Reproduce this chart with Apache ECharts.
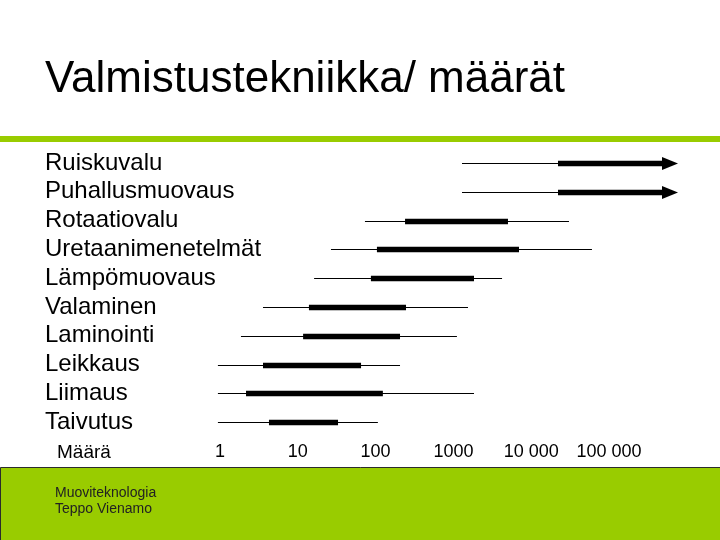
<!DOCTYPE html>
<html>
<head>
<meta charset="utf-8">
<script src="https://cdn.jsdelivr.net/npm/echarts@6/dist/echarts.min.js"></script>
<style>
html,body{margin:0;padding:0;background:#fff;}
#chart{width:720px;height:540px;}
</style>
</head>
<body>
<div id="chart"></div>
<script>
// ---- data ----
const categories = ['Ruiskuvalu','Puhallusmuovaus','Rotaatiovalu','Uretaanimenetelmät','Lämpömuovaus','Valaminen','Laminointi','Leikkaus','Liimaus','Taivutus'];
const rangeMin   = [1290, 1290, 73, 26.7, 16.2, 3.57, 1.86, 0.94, 0.94, 0.94];
const typicalMin = [22100, 22100, 239, 104, 87, 13.9, 11.7, 3.57, 2.16, 4.26];
const typicalMax = [771000, 771000, 5030, 6970, 1840, 246, 206, 65, 124, 32.9];
const rangeMax   = [22100, 22100, 30600, 60400, 4220, 1540, 1110, 206, 1840, 107];
const openEnded  = [1, 1, 0, 0, 0, 0, 0, 0, 0, 0];
const tickValues = [1, 10, 100, 1000, 10000, 100000];

const FONT = '"Liberation Sans", Arial, sans-serif';
const seriesData = categories.map((c, i) => [i, rangeMin[i], typicalMin[i], typicalMax[i], rangeMax[i], openEnded[i]]);

function fmt(v) {
  const r = Math.round(v);
  if (tickValues.indexOf(r) < 0) return '';
  if (r >= 10000) return String(r).replace(/\B(?=(\d{3})+(?!\d))/g, ' ');
  return String(r);
}

const chart = echarts.init(document.getElementById('chart'), null, {renderer: 'canvas'});
chart.setOption({
  backgroundColor: '#ffffff',
  animation: false,
  title: {
    text: 'Valmistustekniikka/ määrät',
    left: 40, top: 53,
    textStyle: {fontFamily: FONT, fontSize: 44, fontWeight: 'normal', color: '#000'}
  },
  grid: {left: 220, right: 33.2, top: 148.6, bottom: 103.4, containLabel: false},
  xAxis: {
    type: 'log', logBase: 10, min: 1, max: 1000000, interval: 1,
    axisLine: {show: false}, axisTick: {show: false}, splitLine: {show: false},
    axisLabel: {fontFamily: FONT, fontSize: 18, color: '#000', margin: 6, formatter: fmt, showMaxLabel: true}
  },
  yAxis: {
    type: 'category', data: categories, inverse: true,
    axisLine: {show: false}, axisTick: {show: false}, splitLine: {show: false},
    axisLabel: {interval: 0, fontFamily: FONT, fontSize: 24, color: '#000', align: 'left', margin: 175, padding: [0, 0, 10, 0]}
  },
  series: [{
    type: 'custom',
    data: seriesData,
    encode: {y: 0, x: [1, 2, 3, 4]},
    renderItem: function (params, api) {
      const cat = api.value(0);
      const pA = api.coord([api.value(1), cat]);
      const pB = api.coord([api.value(2), cat]);
      const pC = api.coord([api.value(3), cat]);
      const pD = api.coord([api.value(4), cat]);
      const open = api.value(5) === 1;
      const y = Math.round(pA[1]);
      const th = 5.5;
      const children = [{
        type: 'line',
        shape: {x1: pA[0], y1: y + 0.5, x2: pD[0], y2: y + 0.5},
        style: {stroke: '#000', lineWidth: 1}
      }];
      const head = 15;
      const endX = open ? pC[0] - head : pC[0];
      children.push({
        type: 'rect',
        shape: {x: pB[0], y: y + 0.5 - th / 2, width: endX - pB[0], height: th},
        style: {fill: '#000'}
      });
      if (open) {
        children.push({
          type: 'polygon',
          shape: {points: [[endX - 1, y + 0.5 - 6.5], [pC[0], y + 0.5], [endX - 1, y + 0.5 + 6.5]]},
          style: {fill: '#000'}
        });
      }
      return {type: 'group', children: children};
    }
  }],
  graphic: [
    {type: 'rect', shape: {x: 0, y: 136, width: 720, height: 6}, style: {fill: '#99CC00'}, silent: true},
    {type: 'text', left: 57, top: 443, style: {text: 'Määrä', font: '19px ' + FONT, fill: '#000'}, silent: true},
    {type: 'rect', shape: {x: 0.5, y: 467.5, width: 721, height: 80}, style: {fill: '#99CC00', stroke: '#2b2b2b', lineWidth: 1}, silent: true},
    {type: 'text', left: 55, top: 485, style: {text: 'Muoviteknologia\nTeppo Vienamo', font: '14px ' + FONT, fill: '#222', lineHeight: 16}, silent: true}
  ]
});
</script>
</body>
</html>
